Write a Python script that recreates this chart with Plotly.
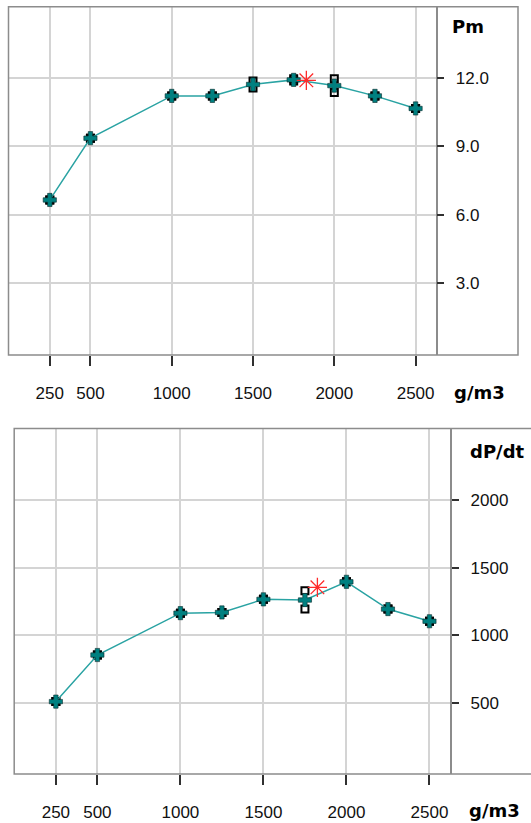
import plotly.graph_objects as go

# ---- data -------------------------------------------------------------
conc = [250, 500, 1000, 1250, 1500, 1750, 2000, 2250, 2500]   # dust concentration, g/m3

pm_mean = [6.65, 9.35, 11.2, 11.2, 11.7, 11.9, 11.65, 11.2, 10.65]
pm_run1 = [6.65, 9.35, 11.2, 11.2, 11.85, 11.95, 11.95, 11.2, 10.65]
pm_run2 = [6.65, 9.35, 11.2, 11.2, 11.55, 11.85, 11.35, 11.2, 10.65]

dpdt_mean = [510, 855, 1165, 1170, 1267, 1262, 1397, 1195, 1105]
dpdt_run1 = [510, 855, 1165, 1170, 1267, 1330, 1397, 1195, 1105]
dpdt_run2 = [510, 855, 1165, 1170, 1267, 1195, 1397, 1195, 1105]

pm_opt = (1828, 11.88)
dpdt_opt = (1825, 1356)

x_ticks = [250, 500, 1000, 1500, 2000, 2500]
pm_ticks = [3.0, 6.0, 9.0, 12.0]
dpdt_ticks = [500, 1000, 1500, 2000]

# ---- geometry helpers ---------------------------------------------------
W, H = 531, 823


def px(x):
    return x / W


def py(y):
    return 1 - y / H


LINE_C = "#2AA3A3"
MARK_C = "#008080"
GRID_C = "#D4D4D4"
FRAME_C = "#8C8C8C"
TICK_C = "#303030"
STAR_C = "#FF2A2A"
NUM_FONT = dict(family="Liberation Sans, Arial, sans-serif", size=17, color="#111111")
LBL_FONT = dict(family="DejaVu Sans, sans-serif", size=18, color="#000000")

fig = go.Figure()


def add_panel(xa, ya, mean, run1, run2, opt):
    # individual runs: small open black squares
    for run in (run1, run2):
        fig.add_trace(go.Scatter(
            x=conc, y=run, mode="markers", xaxis=xa, yaxis=ya,
            marker=dict(symbol="square-open", size=7, color="#000000",
                        line=dict(width=2)),
            hoverinfo="skip", showlegend=False))
    # mean curve with cross markers
    fig.add_trace(go.Scatter(
        x=conc, y=mean, mode="lines+markers", xaxis=xa, yaxis=ya,
        line=dict(color=LINE_C, width=1.5),
        marker=dict(symbol="cross", size=11, color=MARK_C,
                    line=dict(width=0.6, color="#0A2A2A")),
        showlegend=False))
    # optimum
    fig.add_trace(go.Scatter(
        x=[opt[0]], y=[opt[1]], mode="markers", xaxis=xa, yaxis=ya,
        marker=dict(symbol="asterisk-open", size=16, color=STAR_C,
                    line=dict(width=1.3, color=STAR_C)),
        showlegend=False))


add_panel("x", "y", pm_mean, pm_run1, pm_run2, pm_opt)
add_panel("x2", "y2", dpdt_mean, dpdt_run1, dpdt_run2, dpdt_opt)

xaxis_common = dict(
    tickmode="array", tickvals=x_ticks, ticktext=[str(v) for v in x_ticks],
    showgrid=True, gridcolor=GRID_C, gridwidth=1.6, zeroline=False,
    showline=False, ticks="outside", ticklen=10, tickwidth=1.5, tickcolor=TICK_C,
    tickfont=NUM_FONT, ticklabelstandoff=13, fixedrange=True)

yaxis_common = dict(
    side="right", showgrid=True, gridcolor=GRID_C, gridwidth=1.6, zeroline=False,
    showline=True, linecolor=FRAME_C, linewidth=1.5,
    ticks="outside", ticklen=7, tickwidth=1.5, tickcolor=TICK_C,
    tickfont=NUM_FONT, ticklabelstandoff=8, fixedrange=True)

# top panel: Pm
top = dict(x0=8.5, x1=435.6, y0=6.7, y1=355.0, right=518.0)
# bottom panel: dP/dt
bot = dict(x0=14.2, x1=450.4, y0=428.5, y1=774.0, right=540.0)

fig.update_layout(
    width=W, height=H,
    margin=dict(l=0, r=0, t=0, b=0),
    paper_bgcolor="white", plot_bgcolor="white",
    xaxis=dict(xaxis_common, domain=[px(top["x0"]), px(top["x1"])],
               range=[-4, 2623], anchor="y"),
    yaxis=dict(yaxis_common, domain=[py(top["y1"]), py(top["y0"])],
               range=[-0.13, 15.1], tickvals=pm_ticks, tickformat=".1f",
               anchor="x"),
    xaxis2=dict(xaxis_common, domain=[px(bot["x0"]), px(bot["x1"])],
                range=[-1, 2626], anchor="y2"),
    yaxis2=dict(yaxis_common, domain=[py(bot["y1"]), py(bot["y0"])],
                range=[-26, 2532], tickvals=dpdt_ticks, tickformat="d",
                anchor="x2"),
)

# outer frames around each panel (including the label column on the right)
for p in (top, bot):
    fig.add_shape(type="rect", xref="paper", yref="paper",
                  x0=px(p["x0"]), x1=px(p["right"]), y0=py(p["y1"]), y1=py(p["y0"]),
                  line=dict(color=FRAME_C, width=1.5), layer="above")

# axis titles
for text, x, y in (("Pm", 468, 27), ("g/m3", 479, 392.6),
                   ("dP/dt", 497, 451), ("g/m3", 494.5, 810)):
    fig.add_annotation(text=f"<b>{text}</b>", xref="paper", yref="paper",
                       x=px(x), y=py(y), xanchor="center", yanchor="middle",
                       showarrow=False, font=LBL_FONT)

fig.write_html("out.html")
